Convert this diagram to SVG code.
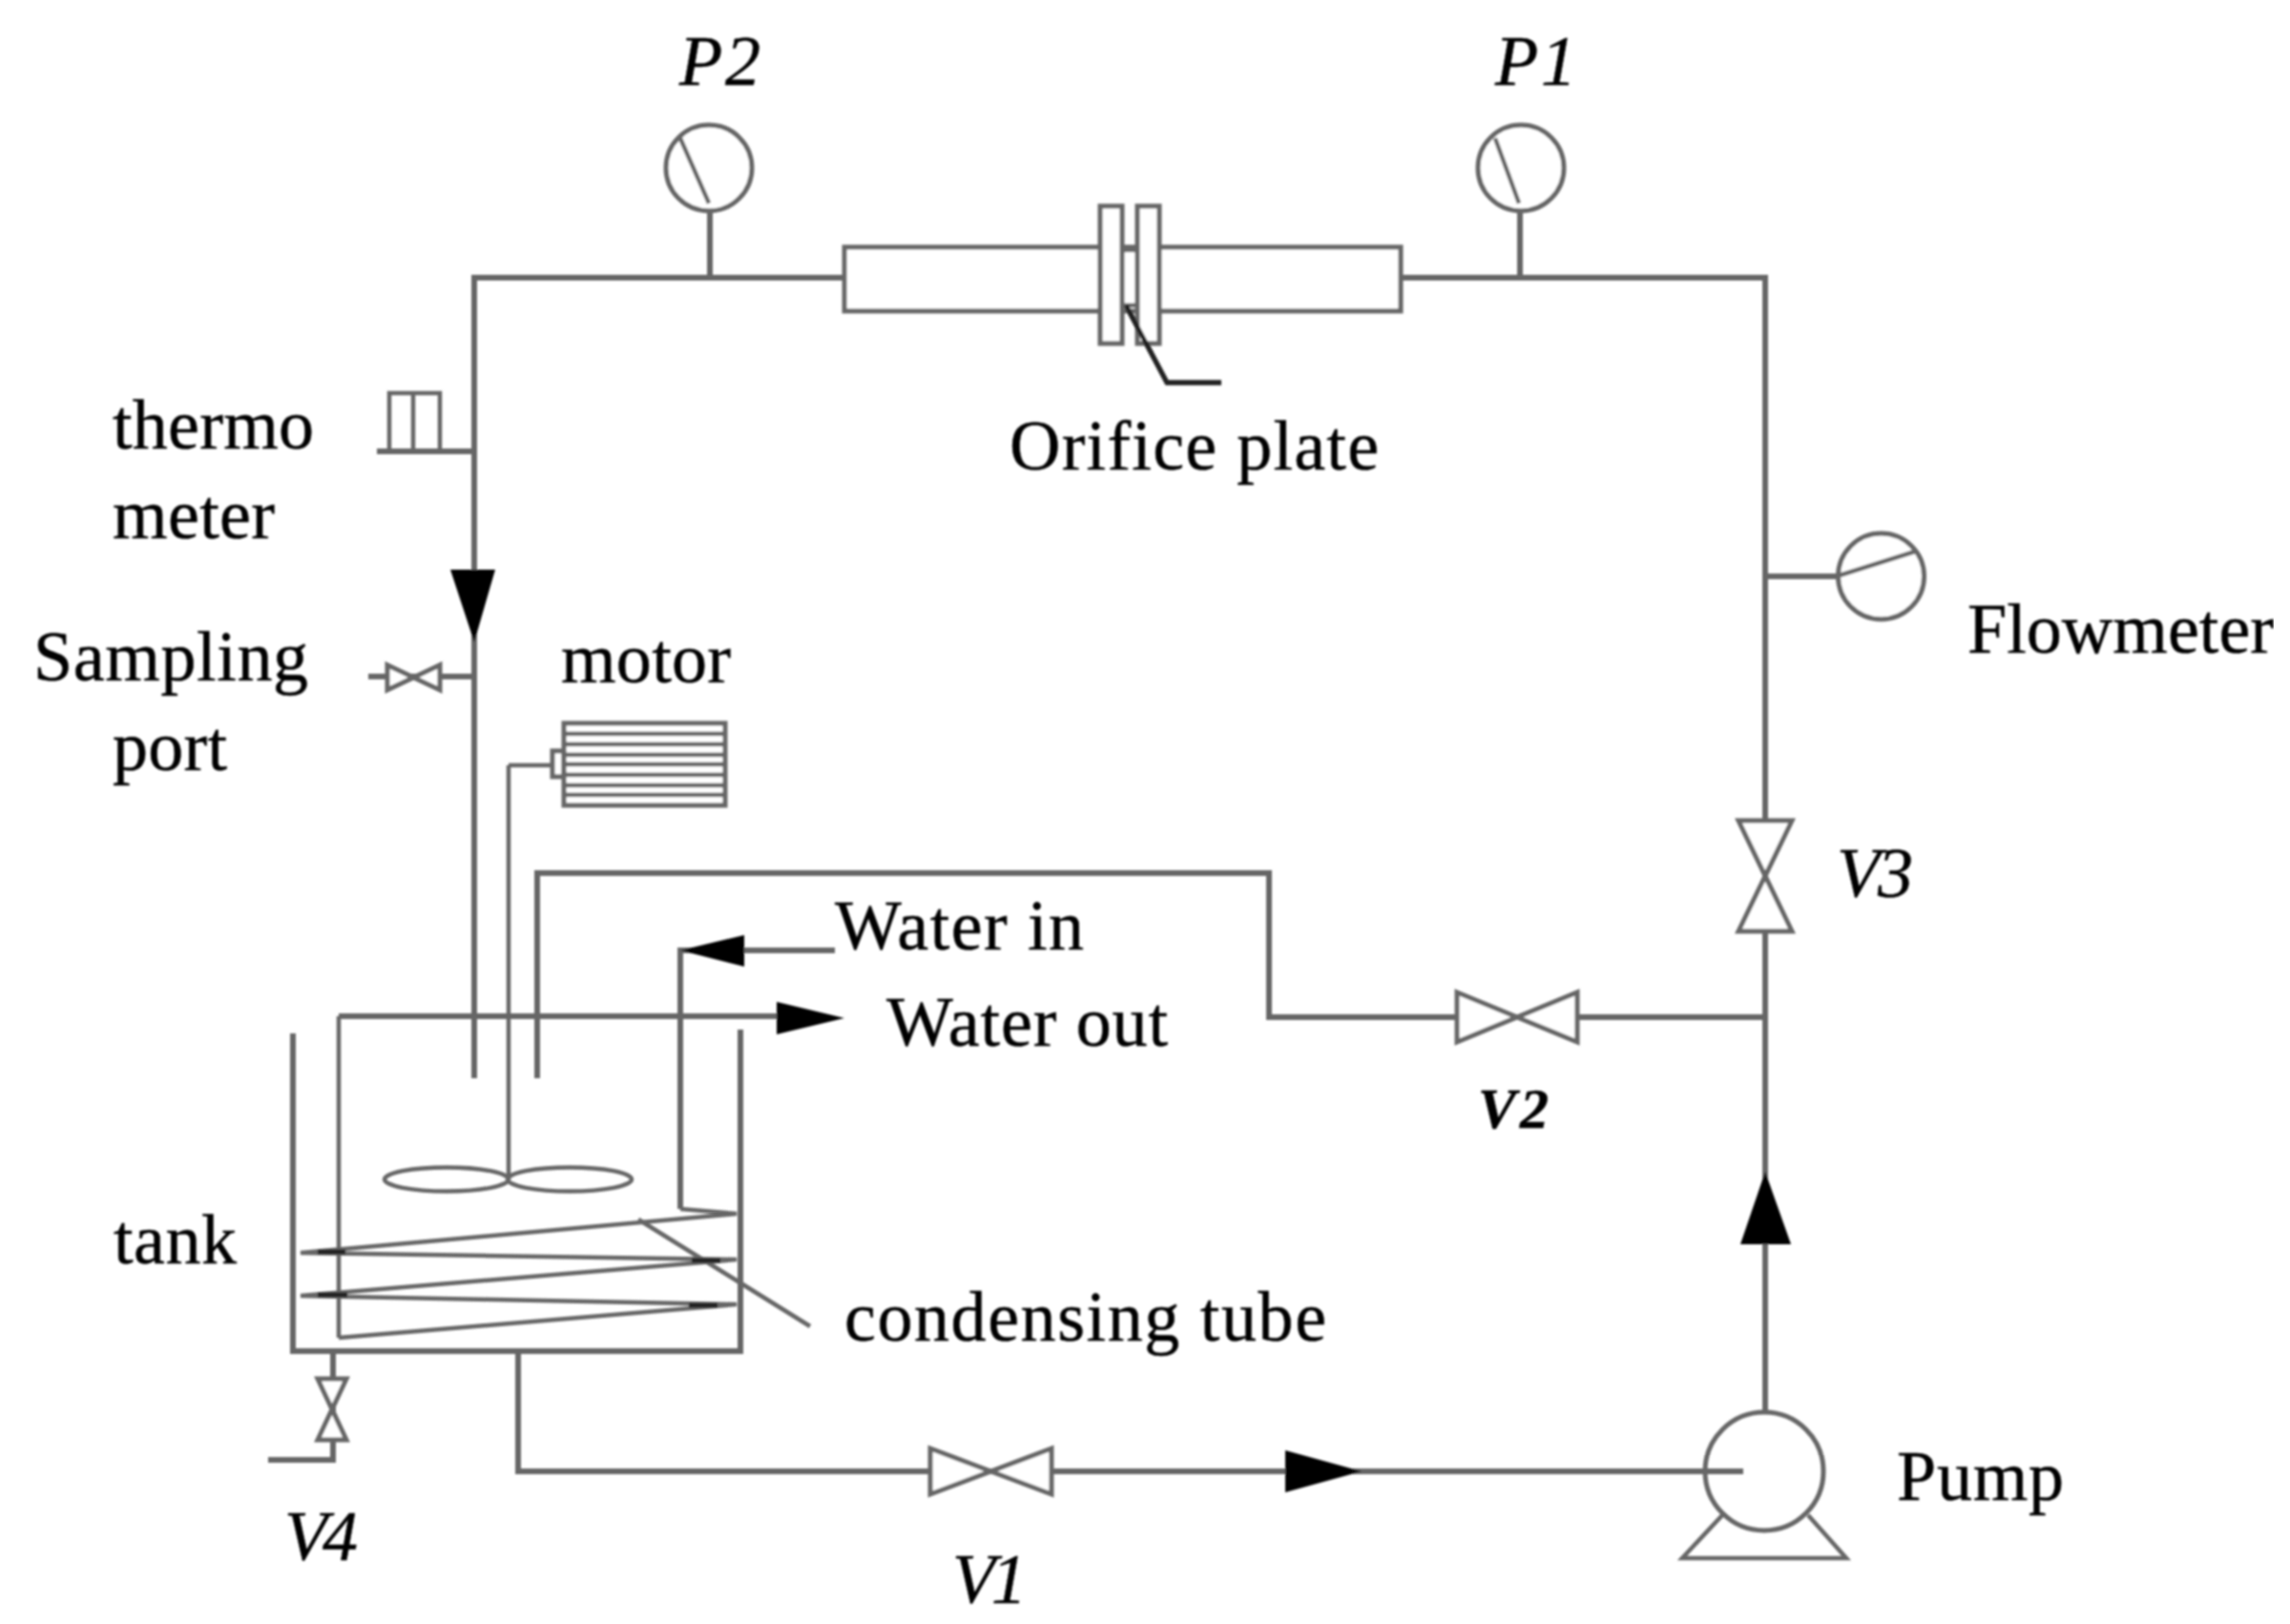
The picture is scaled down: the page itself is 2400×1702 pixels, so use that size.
<svg xmlns="http://www.w3.org/2000/svg" width="2400" height="1702" viewBox="0 0 2400 1702">
<style>
.l{fill:none;stroke:#666;stroke-width:6}
.t{fill:none;stroke:#666;stroke-width:4.5}
.w{fill:#fff;stroke:#666;stroke-width:5}
.d{fill:none;stroke:#222;stroke-width:5}
.a{fill:#000;stroke:none}
text{font-family:"Liberation Serif","Times New Roman",serif;font-size:74px;fill:#000;stroke:#000;stroke-width:0.5}
.i{font-style:italic}
.b{font-style:italic;font-weight:bold;font-size:60px}
</style>
<defs>
<filter id="soft" x="0" y="0" width="100%" height="100%"><feGaussianBlur stdDeviation="0.9"/></filter>
</defs>
<rect width="2400" height="1702" fill="#fff"/>
<g filter="url(#soft)">
<g id="connectors">
<path class="l" d="M885 291H497V1130"/>
<path class="l" d="M1468 291H1850V1482"/>
<path class="l" d="M744 222V291"/>
<path class="l" d="M1593 222V291"/>
<path class="l" d="M1850 604H1926"/>
<path class="l" d="M1850 1066H1653M1527 1066H1330V915H563V1130"/>
<path class="l" d="M543 1416V1542H1827"/>
<path class="l" d="M355 1065H830"/>
<path class="l" d="M875 996H713V1267"/>
<path class="t" d="M533 802V1236"/>
<path class="t" d="M533 802H579"/>
<path class="l" d="M349 1416V1530H281"/>
<path class="l" d="M395 473H497"/>
<path class="l" d="M386 709H497"/>
<path class="d" d="M1180 320L1223 401H1280"/>
<path class="t" d="M669 1278L849 1390"/>
<polygon class="a" points="472,597 519,597 497,673"/>
<polygon class="a" points="814,1050 885,1067 814,1084"/>
<polygon class="a" points="780,980 713,996 780,1013"/>
<polygon class="a" points="1347,1520 1427,1542 1347,1564"/>
<polygon class="a" points="1824,1304 1877,1304 1850,1228"/>
</g>
<g id="orifice">
<rect class="w" x="885" y="259" width="583" height="67"/>
<rect class="w" x="1153" y="216" width="23" height="144"/>
<rect class="w" x="1192" y="216" width="23" height="144"/>
<path class="t" d="M1176 262H1192M1176 320H1192"/>
<path class="d" d="M1180 320L1223 401H1280"/>
<text x="1058" y="492" textLength="387">Orifice plate</text>
</g>
<g id="p2">
<circle class="w" cx="743" cy="176" r="45"/>
<path class="t" d="M713 145L743 213"/>
<text class="i" x="712" y="89" textLength="85">P2</text>
</g>
<g id="p1">
<circle class="w" cx="1594" cy="176" r="45"/>
<path class="t" d="M1567 145L1592 213"/>
<text class="i" x="1567" y="89" textLength="85">P1</text>
</g>
<g id="flowmeter">
<circle class="w" cx="1971.500" cy="604" r="45"/>
<path class="t" d="M1928 603L2007 578"/>
<text x="2062" y="684" textLength="321">Flowmeter</text>
</g>
<g id="thermometer">
<path class="t" d="M408 473V412H461V473M433 412V473"/>
<text x="118" y="470" textLength="211">thermo</text>
<text x="118" y="564" textLength="170">meter</text>
</g>
<g id="sampling-port">
<path class="w" d="M406 697L461 723V697L406 723Z"/>
<text x="35" y="713" textLength="288">Sampling</text>
<text x="118" y="807" textLength="120">port</text>
</g>
<g id="motor">
<rect class="w" x="579" y="787" width="12" height="27"/>
<rect class="w" x="591" y="758" width="169" height="86"/>
<path class="t" d="M591 769H760M591 780H760M591 791H760M591 801H760M591 812H760M591 823H760M591 833H760"/>
<text x="588" y="715" textLength="178">motor</text>
</g>
<g id="v3">
<path class="w" d="M1822 860H1878L1822 976H1878Z"/>
<text class="i" x="1925" y="940" textLength="80">V3</text>
</g>
<g id="v2">
<path class="w" d="M1527 1040L1653 1092V1040L1527 1092Z"/>
<text class="b" x="1549" y="1182" textLength="74">V2</text>
</g>
<g id="v1">
<path class="w" d="M975 1518L1102 1566V1518L975 1566Z"/>
<text class="i" x="998" y="1680" textLength="78">V1</text>
</g>
<g id="v4">
<path class="w" d="M333 1445H363L333 1509H363Z"/>
<text class="i" x="298" y="1635" textLength="77">V4</text>
</g>
<g id="tank">
<path class="l" d="M307 1083V1416H776V1079"/>
<path class="t" d="M355 1065V1402"/>
<ellipse class="t" cx="468" cy="1236" rx="65" ry="12.500"/>
<ellipse class="t" cx="597" cy="1236" rx="65" ry="12.500"/>
<path class="t" d="M713 1267L772 1272L315 1313L772 1320L315 1358L772 1367L355 1402"/>
<path class="d" d="M333 1312H362M333 1357H364M725 1321H755M722 1368H752"/>
<text x="119" y="1324" textLength="129">tank</text>
<text x="885" y="1405" textLength="505">condensing tube</text>
<text x="875" y="995" textLength="261">Water in</text>
<text x="929" y="1096" textLength="295">Water out</text>
</g>
<g id="pump">
<circle class="w" cx="1849" cy="1542" r="62" fill-opacity="0"/>
<path class="l" d="M1780 1542H1827"/>
<path class="t" d="M1805 1588L1763 1633H1935L1895 1588"/>
<text x="1988" y="1572" textLength="175">Pump</text>
</g>
</g>
</svg>
